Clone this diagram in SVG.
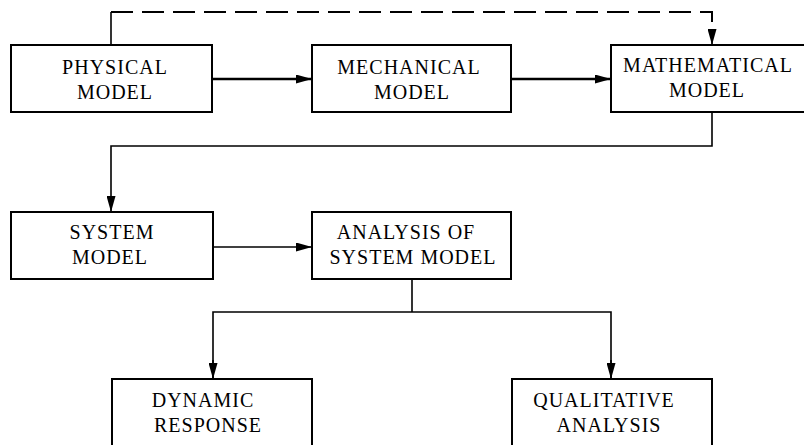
<svg xmlns="http://www.w3.org/2000/svg" width="804" height="445" viewBox="0 0 804 445">
<defs>
<marker id="ah" viewBox="0 0 16 9" refX="16" refY="4.5" markerWidth="16" markerHeight="9" markerUnits="userSpaceOnUse" orient="auto">
<path d="M0,0 L16,4.5 L0,9 z" fill="#000"/>
</marker>
<style>
.box{fill:#fff;stroke:#000;stroke-width:2}
.lbl{font-family:"Liberation Serif","Times New Roman",serif;font-size:20px;letter-spacing:1px;fill:#000;text-anchor:middle}
.c{fill:none;stroke:#000;stroke-width:1.6}
.ct{fill:none;stroke:#000;stroke-width:2.4}
.d{fill:none;stroke:#000;stroke-width:2;stroke-dasharray:22 9}
</style>
</defs>
<rect width="804" height="445" fill="#fff"/>
<g id="connectors">
<path class="c" d="M111,45 V12"/>
<path class="d" d="M111,12 H712 V30"/>
<path class="c" d="M712,29 V45" marker-end="url(#ah)"/>
<path class="ct" d="M212,79 H312" marker-end="url(#ah)"/>
<path class="ct" d="M511,79 H611" marker-end="url(#ah)"/>
<path class="c" d="M712,112 V146 H111 V212" marker-end="url(#ah)"/>
<path class="c" d="M213,247 H312" marker-end="url(#ah)"/>
<path class="c" d="M412,279 V312"/>
<path class="c" d="M213,379 V312 H611 V379" />
<path class="c" d="M213,360 V379" marker-end="url(#ah)"/>
<path class="c" d="M611,360 V379" marker-end="url(#ah)"/>
</g>
<g id="physical">
<rect class="box" x="11" y="45" width="201" height="67"/>
<text class="lbl" x="115" y="74">PHYSICAL</text>
<text class="lbl" x="115" y="99">MODEL</text>
</g>
<g id="mechanical">
<rect class="box" x="312" y="45" width="199" height="67"/>
<text class="lbl" x="409" y="74">MECHANICAL</text>
<text class="lbl" x="412" y="99">MODEL</text>
</g>
<g id="mathematical">
<path class="box" d="M806,45 H611 V112 H806"/>
<text class="lbl" x="708" y="72">MATHEMATICAL</text>
<text class="lbl" x="707" y="97">MODEL</text>
</g>
<g id="system">
<rect class="box" x="11" y="212" width="202" height="67"/>
<text class="lbl" x="112" y="239">SYSTEM</text>
<text class="lbl" x="110" y="264">MODEL</text>
</g>
<g id="analysis">
<rect class="box" x="312" y="212" width="199" height="67"/>
<text class="lbl" x="406" y="239">ANALYSIS OF</text>
<text class="lbl" x="413" y="264">SYSTEM MODEL</text>
</g>
<g id="dynamic">
<path class="box" d="M112,447 V379 H312 V447"/>
<text class="lbl" x="203" y="407">DYNAMIC</text>
<text class="lbl" x="208" y="432">RESPONSE</text>
</g>
<g id="qualitative">
<path class="box" d="M512,447 V379 H712 V447"/>
<text class="lbl" x="604" y="407">QUALITATIVE</text>
<text class="lbl" x="609" y="432">ANALYSIS</text>
</g>
</svg>
